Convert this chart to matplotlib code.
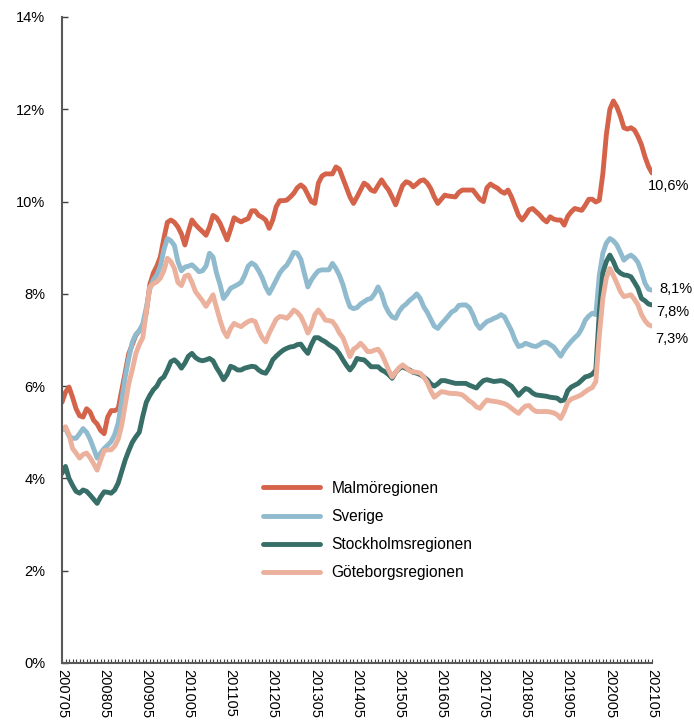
import matplotlib
matplotlib.use('Agg')
import matplotlib.pyplot as plt
from matplotlib.ticker import FuncFormatter, MultipleLocator

plt.rcParams['font.family'] = ['Liberation Sans', 'DejaVu Sans']

# månader 200705 - 202105
start_year, start_month = 2007, 5

malmo = [
    5.65, 5.87, 5.98, 5.76, 5.51, 5.36, 5.33, 5.51, 5.44, 5.26, 5.18, 5.04,
    4.97, 5.33, 5.47, 5.47, 5.51, 5.9, 6.3, 6.7, 6.9, 7.1, 7.2, 7.3,
    7.6, 8.2, 8.45, 8.6, 8.8, 9.2, 9.55, 9.6, 9.55, 9.45, 9.3, 9.06,
    9.35, 9.6, 9.5, 9.42, 9.35, 9.27, 9.45, 9.7, 9.65, 9.53, 9.35, 9.17,
    9.4, 9.65, 9.6, 9.56, 9.6, 9.63, 9.8, 9.8, 9.7, 9.66, 9.6, 9.42,
    9.6, 9.89, 10.02, 10.02, 10.03, 10.1, 10.18, 10.3, 10.36, 10.3, 10.15, 10.0,
    9.96, 10.4, 10.55, 10.6, 10.6, 10.6, 10.75, 10.7, 10.5, 10.3, 10.1, 9.96,
    10.1, 10.25, 10.4, 10.35, 10.25, 10.22, 10.35, 10.47, 10.35, 10.25, 10.1, 9.93,
    10.15, 10.35, 10.43, 10.4, 10.32, 10.38, 10.45, 10.47, 10.4, 10.28, 10.1, 9.96,
    10.05, 10.14, 10.12, 10.11, 10.1, 10.2, 10.25, 10.25, 10.25, 10.25, 10.15, 10.05,
    10.0, 10.3, 10.38, 10.33, 10.29, 10.22, 10.18, 10.25, 10.1, 9.9, 9.7, 9.6,
    9.7, 9.82, 9.85, 9.78, 9.71, 9.62, 9.56, 9.67, 9.62, 9.6, 9.6, 9.49,
    9.68, 9.78, 9.85, 9.83, 9.81, 9.92, 10.05, 10.05, 9.99, 10.03, 10.6, 11.45,
    12.0, 12.18, 12.05, 11.85, 11.6, 11.57, 11.6, 11.55, 11.41, 11.23, 10.97, 10.76,
    10.62,
]

sverige = [
    5.05, 5.08, 4.92, 4.87, 4.87, 4.97, 5.08, 5.0, 4.85, 4.65, 4.44, 4.55,
    4.65, 4.72, 4.8, 4.95, 5.2, 5.69, 6.2, 6.6, 6.95, 7.12, 7.2, 7.35,
    7.7, 8.1, 8.3, 8.41, 8.6, 8.95, 9.2, 9.15, 9.05, 8.7, 8.5, 8.58,
    8.6, 8.63, 8.56, 8.48, 8.5, 8.6, 8.88, 8.8, 8.45, 8.2, 7.9, 8.0,
    8.12, 8.16, 8.2, 8.25, 8.4, 8.6, 8.67, 8.62, 8.5, 8.35, 8.15, 8.01,
    8.15, 8.3, 8.45, 8.55, 8.62, 8.75, 8.9, 8.88, 8.75, 8.45, 8.15, 8.3,
    8.41, 8.5, 8.52, 8.52, 8.52, 8.66, 8.55, 8.4, 8.2, 7.93, 7.72, 7.68,
    7.7, 7.78, 7.83, 7.88, 7.9, 8.0, 8.15, 8.0, 7.75, 7.6, 7.5, 7.47,
    7.62, 7.72, 7.78, 7.86, 7.92, 8.0, 7.9, 7.72, 7.6, 7.45, 7.3, 7.25,
    7.35, 7.43, 7.52, 7.61, 7.65, 7.75, 7.76, 7.76, 7.7, 7.55, 7.35, 7.25,
    7.33, 7.4, 7.43, 7.47, 7.5, 7.55, 7.5, 7.35, 7.2, 7.0, 6.86, 6.88,
    6.93, 6.9, 6.87, 6.86, 6.9, 6.95, 6.95, 6.9, 6.85, 6.75, 6.65, 6.78,
    6.88, 6.97, 7.05, 7.12, 7.25, 7.43, 7.52, 7.58, 7.55, 8.4, 8.88, 9.1,
    9.2, 9.15, 9.06, 8.9, 8.73, 8.8, 8.84, 8.78, 8.68, 8.48, 8.23, 8.1,
    8.08,
]

stockholm = [
    4.11, 4.26, 4.0, 3.85, 3.72, 3.68, 3.75, 3.72, 3.64, 3.55, 3.46, 3.6,
    3.71, 3.7, 3.68, 3.75, 3.9, 4.15, 4.4, 4.6, 4.78, 4.9, 5.0, 5.35,
    5.65, 5.8, 5.92, 6.0, 6.14, 6.2, 6.35, 6.53, 6.57, 6.5, 6.39, 6.5,
    6.65, 6.71, 6.62, 6.57, 6.55, 6.57, 6.6, 6.55, 6.4, 6.28, 6.14, 6.25,
    6.43, 6.4, 6.35, 6.35, 6.39, 6.41, 6.43, 6.42, 6.35, 6.3, 6.28, 6.4,
    6.57, 6.65, 6.72, 6.78, 6.82, 6.85, 6.86, 6.9, 6.91, 6.8, 6.71, 6.9,
    7.05, 7.05, 7.0, 6.96, 6.9, 6.85, 6.8, 6.7, 6.57, 6.45, 6.35, 6.45,
    6.6, 6.58, 6.57, 6.5, 6.42, 6.42, 6.42, 6.35, 6.31, 6.25, 6.17, 6.3,
    6.38, 6.42, 6.38, 6.35, 6.3, 6.28, 6.25, 6.2, 6.14, 6.05, 6.0, 6.05,
    6.12, 6.12, 6.1, 6.08, 6.06, 6.06, 6.06, 6.06, 6.02, 5.99, 5.96, 6.05,
    6.12, 6.14, 6.12, 6.1, 6.11, 6.12, 6.1, 6.05, 6.0, 5.9, 5.8, 5.88,
    5.95, 5.92, 5.85, 5.81, 5.8, 5.79, 5.78, 5.76, 5.75, 5.74, 5.68, 5.7,
    5.9, 5.98, 6.02, 6.06, 6.13, 6.2, 6.22, 6.26, 6.35, 7.6, 8.45, 8.7,
    8.84, 8.7, 8.52, 8.45, 8.41, 8.4, 8.37, 8.25, 8.12, 7.9, 7.85, 7.78,
    7.76,
]

goteborg = [
    5.05, 5.12, 4.95, 4.65, 4.55, 4.44, 4.52, 4.55, 4.45, 4.32, 4.18, 4.4,
    4.6, 4.62, 4.62, 4.7, 4.85, 5.15, 5.6, 6.05, 6.35, 6.7, 6.9, 7.05,
    7.6, 8.15, 8.22, 8.26, 8.34, 8.5, 8.77, 8.7, 8.55, 8.25, 8.18, 8.38,
    8.41, 8.25, 8.05, 7.95, 7.85, 7.73, 7.85, 7.98, 7.7, 7.43, 7.2, 7.07,
    7.25, 7.36, 7.32, 7.29, 7.35, 7.4, 7.43, 7.4, 7.2, 7.05, 6.96, 7.15,
    7.3, 7.45, 7.51, 7.5, 7.47, 7.55, 7.65, 7.6, 7.51, 7.35, 7.15, 7.3,
    7.55, 7.65, 7.55, 7.43, 7.42, 7.4, 7.3, 7.15, 7.05, 6.85, 6.64, 6.8,
    6.85, 6.93, 6.85, 6.75, 6.75, 6.78, 6.8, 6.7, 6.53, 6.35, 6.2, 6.3,
    6.4, 6.46, 6.4, 6.33, 6.31, 6.3, 6.28, 6.2, 6.08, 5.9, 5.76, 5.82,
    5.88, 5.87, 5.85, 5.84, 5.84, 5.83, 5.81, 5.75, 5.68, 5.63, 5.55, 5.52,
    5.62, 5.7, 5.68, 5.67, 5.66, 5.64, 5.62, 5.58, 5.52, 5.46, 5.41, 5.5,
    5.57, 5.58, 5.5, 5.45, 5.45, 5.45, 5.45, 5.44, 5.42, 5.38, 5.3, 5.45,
    5.65, 5.72, 5.75, 5.78, 5.82, 5.88, 5.93, 5.97, 6.1, 7.1, 7.9, 8.35,
    8.55, 8.4, 8.23, 8.05, 7.94, 7.96, 7.98, 7.88, 7.76, 7.55, 7.42, 7.33,
    7.3,
]

series = [
    ('Malmöregionen', malmo, '#D4634A'),
    ('Sverige', sverige, '#90BACD'),
    ('Stockholmsregionen', stockholm, '#376E68'),
    ('Göteborgsregionen', goteborg, '#EBB19C'),
]

n = len(malmo)
months = []
for i in range(n):
    y = start_year + (start_month - 1 + i) // 12
    m = (start_month - 1 + i) % 12 + 1
    months.append(f'{y}{m:02d}')
x = list(range(n))

fig = plt.figure(figsize=(6.94, 7.27), dpi=100)
ax = fig.add_axes([62 / 694, 64 / 727, 590 / 694, 646 / 727])

for name, vals, col in series:
    ax.plot(x, vals, color=col, lw=3.5, label=name, solid_capstyle='round', solid_joinstyle='round')

# etiketter vid sista värdet
offsets = {'Malmöregionen': (-4, -13), 'Sverige': (7, 1),
           'Stockholmsregionen': (4, -7), 'Göteborgsregionen': (3, -13)}
for name, vals, col in series:
    ax.annotate(f'{vals[-1]:.1f}%'.replace('.', ','), (x[-1], vals[-1]),
                xytext=offsets[name], textcoords='offset pixels',
                ha='left', va='center', fontsize=10.5, color='black',
                annotation_clip=False)

ax.set_xlim(0, n - 1)
ax.set_ylim(0, 14)
ax.yaxis.set_major_locator(MultipleLocator(2))
ax.yaxis.set_major_formatter(FuncFormatter(lambda v, p: f'{v:.0f}%'))
ax.set_xticks(x[::12])
ax.set_xticklabels(months[::12], rotation=270, fontsize=10.5)
ax.set_xticks(x, minor=True)
ax.tick_params(axis='x', which='both', direction='in', length=3, width=0.8, color='#404040', pad=4)
ax.tick_params(axis='y', direction='in', length=4, width=1, color='#404040', labelsize=10.5, pad=12)

for s in ['top', 'right']:
    ax.spines[s].set_visible(False)
for s in ['left', 'bottom']:
    ax.spines[s].set_color('#595959')
    ax.spines[s].set_linewidth(1.5)

ax.legend(loc='center', bbox_to_anchor=(0.518, 0.205), frameon=False, fontsize=11.2,
          handlelength=3.7, handletextpad=0.75, labelspacing=0.85)

plt.savefig('out.png', dpi=100)
